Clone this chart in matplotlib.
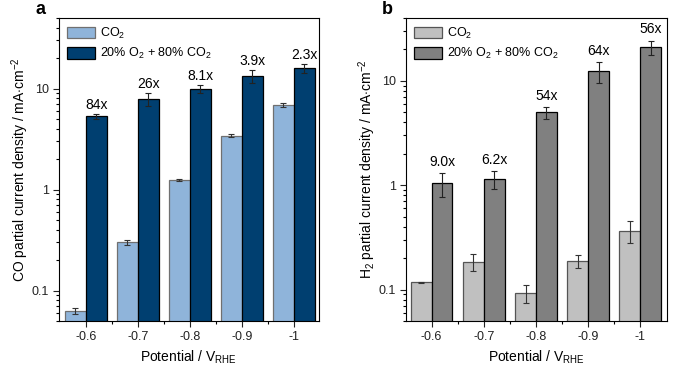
import numpy as np
import matplotlib
matplotlib.use("Agg")
import matplotlib.pyplot as plt
from matplotlib.ticker import FixedLocator, FuncFormatter, LogLocator, NullFormatter

plt.rcParams['font.family'] = ['Liberation Sans', 'DejaVu Sans']
plt.rcParams['mathtext.fontset'] = 'custom'
plt.rcParams['mathtext.rm'] = 'Liberation Sans'
plt.rcParams['mathtext.it'] = 'Liberation Sans:italic'

potentials = ['-0.6', '-0.7', '-0.8', '-0.9', '-1']

# panel a: CO partial current density (mA cm-2)
co_co2 = [0.063, 0.30, 1.24, 3.43, 6.9]
co_co2_err = [0.004, 0.02, 0.03, 0.12, 0.3]
co_o2 = [5.3, 7.9, 10.0, 13.4, 16.0]
co_o2_err = [0.25, 1.1, 0.9, 2.0, 1.6]
co_ratio = ['84x', '26x', '8.1x', '3.9x', '2.3x']

# panel b: H2 partial current density (mA cm-2)
h2_co2 = [0.117, 0.185, 0.092, 0.189, 0.367]
h2_co2_err = [0.002, 0.033, 0.018, 0.027, 0.09]
h2_o2 = [1.04, 1.14, 5.0, 12.3, 21.0]
h2_o2_err = [0.27, 0.22, 0.65, 2.8, 3.3]
h2_ratio = ['9.0x', '6.2x', '54x', '64x', '56x']

fig = plt.figure(figsize=(6.85, 3.68), dpi=100)
ax_a = fig.add_axes([59 / 685, 47 / 368, 260 / 685, 303 / 368])
ax_b = fig.add_axes([406 / 685, 47 / 368, 261 / 685, 303 / 368])

x = np.arange(len(potentials))
w = 0.4


def panel(ax, low, low_err, high, high_err, ratio, c_low, c_high, e_low,
          ylim, xlim, ylabel, letter, pad):
    b1 = ax.bar(x - w / 2, low, w, color=c_low, edgecolor=e_low, linewidth=0.9,
                label='CO$_2$', zorder=2)
    b2 = ax.bar(x + w / 2, high, w, color=c_high, edgecolor='black', linewidth=0.9,
                label='20% O$_2$ + 80% CO$_2$', zorder=2)
    ax.errorbar(x - w / 2, low, yerr=low_err, fmt='none', ecolor='#333333',
                elinewidth=0.8, capsize=2.5, capthick=0.8, zorder=3)
    ax.errorbar(x + w / 2, high, yerr=high_err, fmt='none', ecolor='#222222',
                elinewidth=0.8, capsize=2.5, capthick=0.8, zorder=3)
    for xi, h, e, t in zip(x, high, high_err, ratio):
        ax.annotate(t, (xi + w / 2, h + e), xytext=(0, pad), textcoords='offset points',
                    ha='center', va='bottom', fontsize=10)
    ax.set_yscale('log')
    ax.set_ylim(*ylim)
    ax.set_xlim(*xlim)
    ax.set_xticks(x)
    ax.set_xticklabels(potentials)
    ax.xaxis.set_minor_locator(FixedLocator(x[:-1] + 0.5))
    ax.yaxis.set_major_locator(LogLocator(base=10, numticks=10))
    ax.yaxis.set_minor_locator(LogLocator(base=10, subs=np.arange(2, 10), numticks=20))
    ax.yaxis.set_major_formatter(FuncFormatter(lambda v, p: '%g' % v))
    ax.yaxis.set_minor_formatter(NullFormatter())
    ax.tick_params(which='major', direction='out', length=4, width=0.8, labelsize=9,
                   colors='#222222')
    ax.tick_params(which='minor', direction='out', length=2.5, width=0.8)
    for s in ax.spines.values():
        s.set_linewidth(0.8)
    ax.set_xlabel(r'Potential / V$_\mathregular{RHE}$', fontsize=10, labelpad=4)
    ax.set_ylabel(ylabel, fontsize=10, labelpad=0.5)
    ax.legend(handles=[b1, b2], loc='upper left', bbox_to_anchor=(0, 1), frameon=False,
              fontsize=9, handlelength=2.3, handleheight=1.0, handletextpad=0.35,
              labelspacing=0.45, borderaxespad=0.3, borderpad=0.3)
    ax.text(-0.05, 1.0, letter, transform=ax.transAxes, fontsize=13, fontweight='bold',
            ha='right', va='bottom')


panel(ax_a, co_co2, co_co2_err, co_o2, co_o2_err, co_ratio, '#8fb4da', '#003f70',
      '#707070', (0.05, 50), (-0.515, 4.485),
      r'CO partial current density / mA$\cdot$cm$^{-2}$', 'a', 1.5)
panel(ax_b, h2_co2, h2_co2_err, h2_o2, h2_o2_err, h2_ratio, '#c0c0c0', '#808080',
      '#555555', (0.05, 40), (-0.49, 4.51),
      r'H$_2$ partial current density / mA$\cdot$cm$^{-2}$', 'b', 3)

fig.savefig('out.png', dpi=100)
